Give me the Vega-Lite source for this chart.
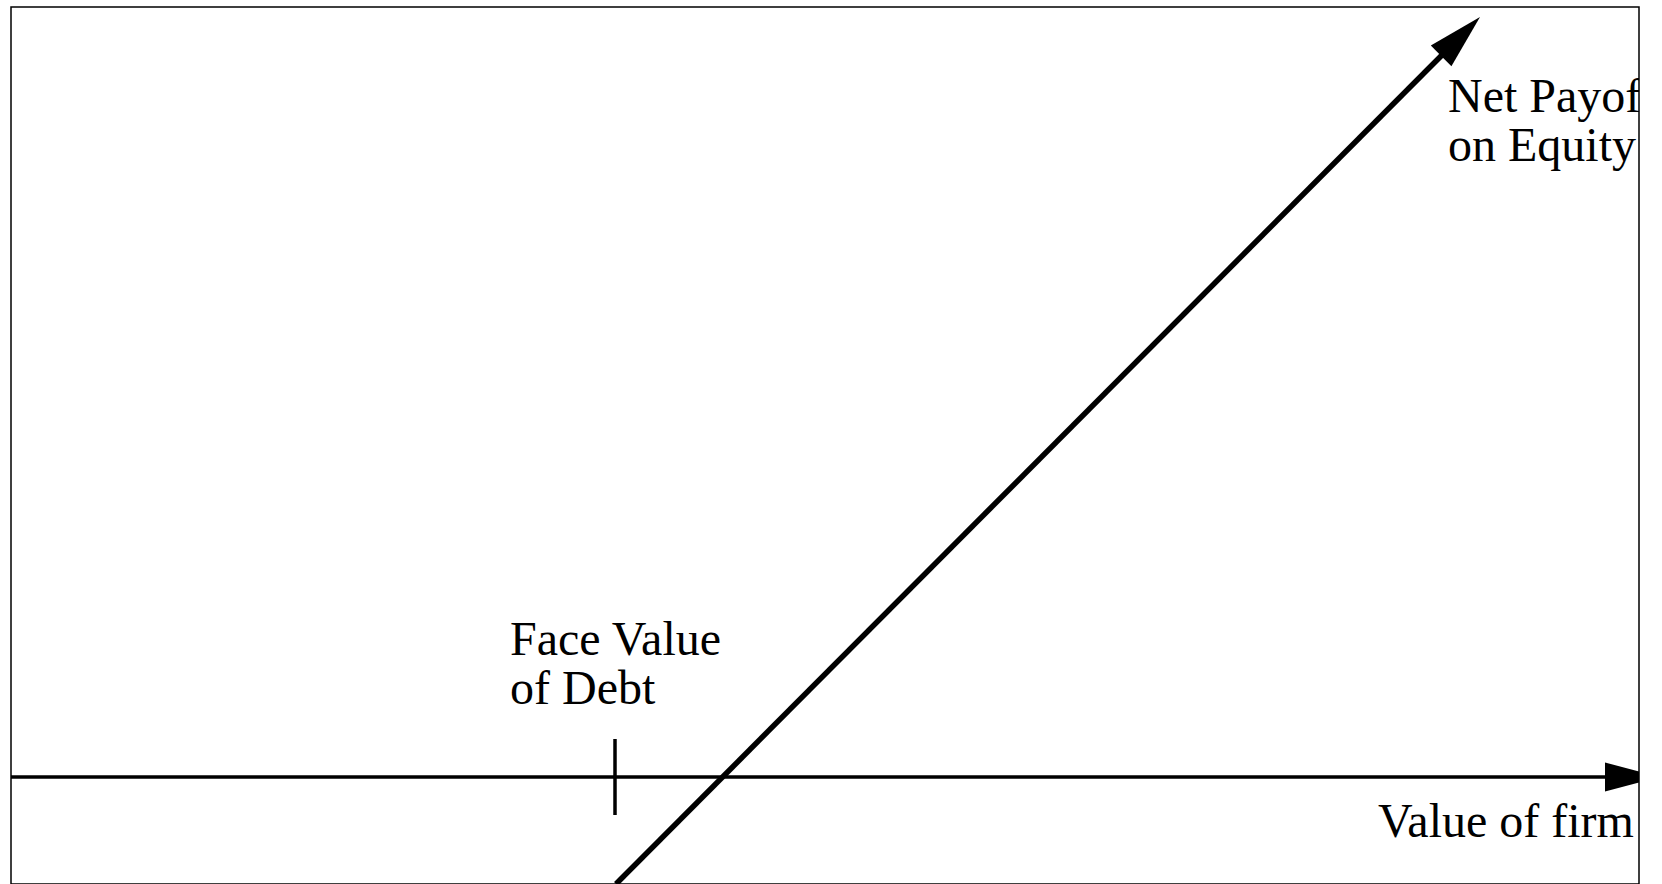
{
  "$schema": "https://vega.github.io/schema/vega-lite/v6.json",
  "width": 1628,
  "height": 877,
  "autosize": {"type": "none"},
  "padding": {"left": 11, "top": 7, "right": 23, "bottom": 0},
  "background": "white",
  "view": {"stroke": "black", "strokeWidth": 1.5, "fill": "white"},
  "config": {"font": "Liberation Serif"},
  "datasets": {
    "axisLine": [{"x": 0, "y": 0, "x2": 1615, "y2": 0}],
    "axisArrow": [{"x": 1649, "y": 0}],
    "debtTick": [{"x": 604, "y": -38, "x2": 604, "y2": 38}],
    "equityLine": [{"x": 605, "y": -107, "x2": 1440, "y2": 731}],
    "equityArrow": [{"x": 1469, "y": 760}],
    "labels": [
      {"x": 499, "y": 122, "label": "Face Value\nof Debt"},
      {"x": 1437, "y": 665, "label": "Net Payoff\non Equity"},
      {"x": 1367, "y": -60, "label": "Value of firm"}
    ]
  },
  "layer": [
    {
      "data": {"name": "axisLine"},
      "mark": {"type": "rule", "color": "black", "strokeWidth": 3.5},
      "encoding": {
        "x": {"field": "x", "type": "quantitative", "scale": {"domain": [0, 1628], "nice": false, "zero": false}, "axis": null},
        "y": {"field": "y", "type": "quantitative", "scale": {"domain": [-107, 770], "nice": false, "zero": false}, "axis": null},
        "x2": {"field": "x2"},
        "y2": {"field": "y2"}
      }
    },
    {
      "data": {"name": "axisArrow"},
      "mark": {"type": "point", "filled": true, "color": "black", "opacity": 1, "shape": "M0,0 L-2,-0.53 L-2,0.53 Z", "size": 3025, "angle": 0, "clip": true},
      "encoding": {
        "x": {"field": "x", "type": "quantitative", "scale": {"domain": [0, 1628], "nice": false, "zero": false}, "axis": null},
        "y": {"field": "y", "type": "quantitative", "scale": {"domain": [-107, 770], "nice": false, "zero": false}, "axis": null}
      }
    },
    {
      "data": {"name": "debtTick"},
      "mark": {"type": "rule", "color": "black", "strokeWidth": 3.5},
      "encoding": {
        "x": {"field": "x", "type": "quantitative", "scale": {"domain": [0, 1628], "nice": false, "zero": false}, "axis": null},
        "y": {"field": "y", "type": "quantitative", "scale": {"domain": [-107, 770], "nice": false, "zero": false}, "axis": null},
        "x2": {"field": "x2"},
        "y2": {"field": "y2"}
      }
    },
    {
      "data": {"name": "equityLine"},
      "mark": {"type": "rule", "color": "black", "strokeWidth": 5.5, "clip": true},
      "encoding": {
        "x": {"field": "x", "type": "quantitative", "scale": {"domain": [0, 1628], "nice": false, "zero": false}, "axis": null},
        "y": {"field": "y", "type": "quantitative", "scale": {"domain": [-107, 770], "nice": false, "zero": false}, "axis": null},
        "x2": {"field": "x2"},
        "y2": {"field": "y2"}
      }
    },
    {
      "data": {"name": "equityArrow"},
      "mark": {"type": "point", "filled": true, "color": "black", "opacity": 1, "shape": "M0,0 L-2,-0.53 L-2,0.53 Z", "size": 3025, "angle": 315, "clip": true},
      "encoding": {
        "x": {"field": "x", "type": "quantitative", "scale": {"domain": [0, 1628], "nice": false, "zero": false}, "axis": null},
        "y": {"field": "y", "type": "quantitative", "scale": {"domain": [-107, 770], "nice": false, "zero": false}, "axis": null}
      }
    },
    {
      "data": {"name": "labels"},
      "mark": {"type": "text", "color": "black", "font": "Liberation Serif", "fontSize": 48, "align": "left", "baseline": "alphabetic", "lineBreak": "\n", "lineHeight": 49, "clip": true},
      "encoding": {
        "x": {"field": "x", "type": "quantitative", "scale": {"domain": [0, 1628], "nice": false, "zero": false}, "axis": null},
        "y": {"field": "y", "type": "quantitative", "scale": {"domain": [-107, 770], "nice": false, "zero": false}, "axis": null},
        "text": {"field": "label"}
      }
    }
  ]
}
